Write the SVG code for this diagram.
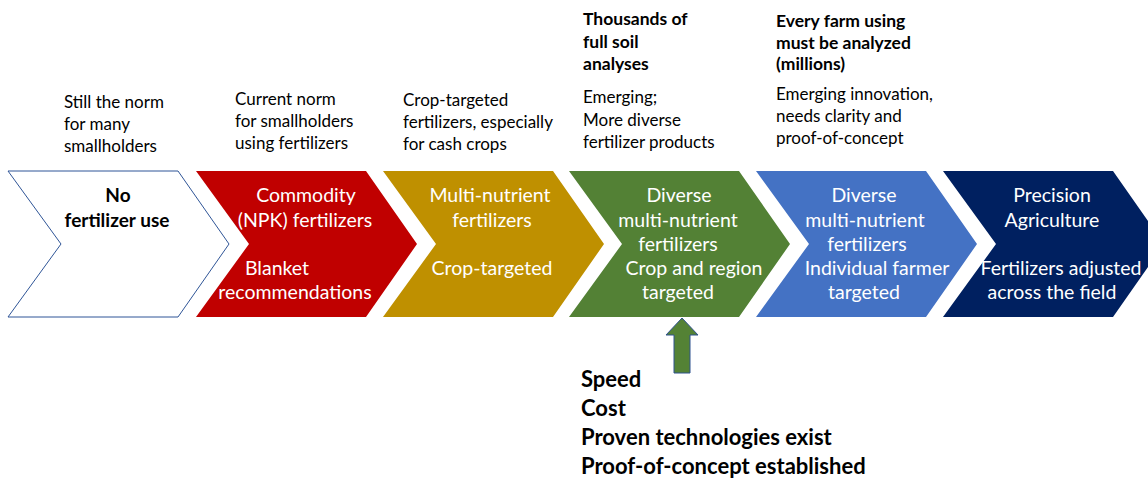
<svg xmlns="http://www.w3.org/2000/svg" width="1148" height="478" viewBox="0 0 1148 478">
  <style>
    text { font-family: Lato, "Liberation Sans", sans-serif; }
    .note { font-size: 17px; fill: #000; }
    .head { font-size: 17.5px; font-weight: bold; fill: #000; }
    .lbl { font-size: 19.5px; fill: #fff; text-anchor: middle; }
    .lbl-dark { font-size: 19px; font-weight: bold; fill: #000; text-anchor: middle; }
    .factor { font-size: 22px; font-weight: bold; fill: #000; }
  </style>
  <defs>
    <!-- one chevron step: 170 wide body, 51 px point, 146 tall -->
    <polygon id="chev" points="0,0 170,0 221,73 170,146 0,146 53,73"/>
  </defs>

  <!-- stage chevrons -->
  <g id="stage-none">
    <use href="#chev" x="8" y="171" fill="#fff" stroke="#2F5597" stroke-width="1"/>
    <text class="lbl-dark" x="118" y="202">No</text>
    <text class="lbl-dark" x="117" y="227">fertilizer use</text>
  </g>
  <g id="stage-commodity">
    <use href="#chev" x="196" y="171" fill="#C00000"/>
    <text class="lbl" x="306" y="202">Commodity</text>
    <text class="lbl" x="305" y="227">(NPK) fertilizers</text>
    <text class="lbl" x="277" y="275">Blanket</text>
    <text class="lbl" x="295" y="299">recommendations</text>
  </g>
  <g id="stage-multi">
    <use href="#chev" x="383" y="171" fill="#BF9000"/>
    <text class="lbl" x="490" y="202">Multi-nutrient</text>
    <text class="lbl" x="492" y="227">fertilizers</text>
    <text class="lbl" x="492" y="275">Crop-targeted</text>
  </g>
  <g id="stage-region">
    <use href="#chev" x="569" y="171" fill="#538135"/>
    <text class="lbl" x="679" y="202">Diverse</text>
    <text class="lbl" x="678" y="227">multi-nutrient</text>
    <text class="lbl" x="678" y="251">fertilizers</text>
    <text class="lbl" x="694" y="275">Crop and region</text>
    <text class="lbl" x="678" y="299">targeted</text>
  </g>
  <g id="stage-farmer">
    <use href="#chev" x="756" y="171" fill="#4472C4"/>
    <text class="lbl" x="864" y="202">Diverse</text>
    <text class="lbl" x="865" y="227">multi-nutrient</text>
    <text class="lbl" x="867" y="251">fertilizers</text>
    <text class="lbl" x="877" y="275">Individual farmer</text>
    <text class="lbl" x="864" y="299">targeted</text>
  </g>
  <g id="stage-precision">
    <use href="#chev" x="943" y="171" fill="#002060"/>
    <text class="lbl" x="1052" y="202">Precision</text>
    <text class="lbl" x="1052" y="227">Agriculture</text>
    <text class="lbl" x="1061" y="275">Fertilizers adjusted</text>
    <text class="lbl" x="1052" y="299">across the field</text>
  </g>

  <!-- status notes above each stage -->
  <g id="note-none">
    <text class="note" x="64" y="108">Still the norm</text>
    <text class="note" x="64" y="130">for many</text>
    <text class="note" x="64" y="152">smallholders</text>
  </g>
  <g id="note-commodity">
    <text class="note" x="235" y="105">Current norm</text>
    <text class="note" x="235" y="127">for smallholders</text>
    <text class="note" x="235" y="149">using fertilizers</text>
  </g>
  <g id="note-multi">
    <text class="note" x="403" y="106">Crop-targeted</text>
    <text class="note" x="403" y="128">fertilizers, especially</text>
    <text class="note" x="403" y="150">for cash crops</text>
  </g>
  <g id="note-region">
    <text class="head" x="583" y="25">Thousands of</text>
    <text class="head" x="583" y="48">full soil</text>
    <text class="head" x="583" y="70">analyses</text>
    <text class="note" x="583" y="103">Emerging;</text>
    <text class="note" x="583" y="126">More diverse</text>
    <text class="note" x="583" y="148">fertilizer products</text>
  </g>
  <g id="note-farmer">
    <text class="head" x="776" y="27">Every farm using</text>
    <text class="head" x="776" y="49">must be analyzed</text>
    <text class="head" x="776" y="70">(millions)</text>
    <text class="note" x="776" y="100">Emerging innovation,</text>
    <text class="note" x="776" y="122">needs clarity and</text>
    <text class="note" x="776" y="144">proof-of-concept</text>
  </g>

  <!-- drivers pushing the crop-and-region stage -->
  <g id="connectors">
    <polygon id="push-arrow" points="682,318 698,335 690,335 690,373 674,373 674,335 666,335" fill="#548235" stroke="#2F528F" stroke-width="1"/>
  </g>
  <g id="drivers">
    <text class="factor" x="581" y="387">Speed</text>
    <text class="factor" x="581" y="416">Cost</text>
    <text class="factor" x="581" y="445">Proven technologies exist</text>
    <text class="factor" x="581" y="474">Proof-of-concept established</text>
  </g>
</svg>
